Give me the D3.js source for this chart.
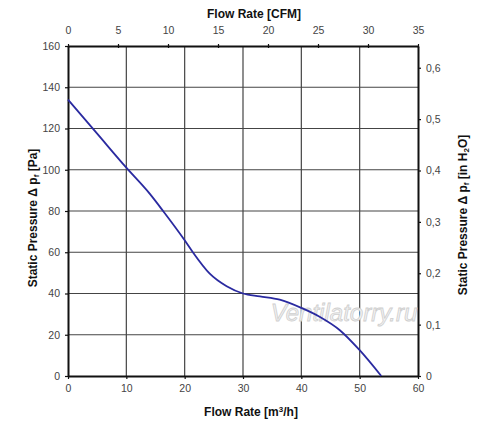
<!DOCTYPE html>
<html>
<head>
<meta charset="utf-8">
<script src="https://cdn.jsdelivr.net/npm/d3@7/dist/d3.min.js"></script>
<style>
body{margin:0;background:#fff;}
svg{display:block;font-family:Arial,"Liberation Sans",sans-serif;}
</style>
</head>
<body>
<svg id="c" width="500" height="421"></svg>
<script>
const flow = [0, 5, 10, 14, 16.3, 20, 21.4, 24.3, 27.2, 30, 32.9, 36.3, 40, 43.2, 46.6, 50, 53.7];
const pressure = [134, 117.5, 101, 88.4, 80, 65.8, 60, 49.6, 43.5, 40, 38.6, 37, 33, 28.6, 22.2, 12.5, 0];
const bottomTicks = [0, 10, 20, 30, 40, 50, 60];
const leftTicks = [0, 20, 40, 60, 80, 100, 120, 140, 160];
const topTicks = [0, 5, 10, 15, 20, 25, 30, 35];
const rightTicks = [0, 0.1, 0.2, 0.3, 0.4, 0.5, 0.6];

const svg = d3.select("#c");
const L = 68, R = 418, T = 46, B = 376;
const x = d3.scaleLinear().domain([0, 60]).range([L, R]);
const y = d3.scaleLinear().domain([0, 160]).range([B, T]);
const xTop = d3.scaleLinear().domain([0, 35]).range([L, R]);
const yRight = d3.scaleLinear().domain([0, 160 / 249.089]).range([B, T]);

const fmt = d3.format(".1f");
const comma = v => v === 0 ? "0" : fmt(v).replace(".", ",");

// grid
svg.append("g").selectAll("line").data(bottomTicks.slice(1, -1)).join("line")
  .attr("x1", d => x(d)).attr("x2", d => x(d)).attr("y1", T).attr("y2", B)
  .attr("stroke", "#444").attr("stroke-width", 1.2);
svg.append("g").selectAll("line").data(leftTicks.slice(1, -1)).join("line")
  .attr("y1", d => y(d)).attr("y2", d => y(d)).attr("x1", L).attr("x2", R)
  .attr("stroke", "#444").attr("stroke-width", 1.2);

function styleAxis(g) {
  g.selectAll("path").attr("stroke", "#111").attr("stroke-width", 2);
  g.selectAll(".tick line").attr("stroke", "#111").attr("stroke-width", 1.2);
  g.selectAll("text").attr("fill", "#444").attr("font-size", 10.5).attr("font-family", "Arial, 'Liberation Sans', sans-serif");
}

svg.append("g").attr("transform", `translate(0,${B})`)
  .call(d3.axisBottom(x).tickValues(bottomTicks).tickSize(3).tickSizeOuter(0).tickPadding(6))
  .call(styleAxis);
svg.append("g").attr("transform", `translate(${L},0)`)
  .call(d3.axisLeft(y).tickValues(leftTicks).tickSize(3).tickSizeOuter(0).tickPadding(5))
  .call(styleAxis);
const topAx = svg.append("g").attr("transform", `translate(0,${T})`)
  .call(d3.axisTop(xTop).tickValues(topTicks).tickSize(3).tickSizeOuter(0).tickPadding(9))
  .call(styleAxis);
topAx.selectAll(".tick line").attr("y1", 2).attr("y2", -2);
svg.append("g").attr("transform", `translate(${R},0)`)
  .call(d3.axisRight(yRight).tickValues(rightTicks).tickSize(3).tickSizeOuter(0).tickPadding(5).tickFormat(comma))
  .call(styleAxis);

// watermark
svg.append("text").attr("x", 344).attr("y", 321).attr("text-anchor", "middle")
  .attr("font-size", 24).attr("font-style", "italic").attr("fill", "#f2f2f2")
  .attr("stroke", "#cfcfcf").attr("stroke-width", 0.8)
  .text("Ventilatorry.ru");

// curve
const line = d3.line().x((d, i) => x(flow[i])).y((d, i) => y(pressure[i])).curve(d3.curveMonotoneX);
svg.append("path").datum(flow).attr("d", line)
  .attr("fill", "none").attr("stroke", "#2a2aa0").attr("stroke-width", 1.8);

// titles
const tf = "Arial, 'Liberation Sans', sans-serif";
svg.append("text").attr("x", 254).attr("y", 18).attr("text-anchor", "middle")
  .attr("font-size", 12).attr("font-weight", "bold").attr("font-family", tf).attr("fill", "#111")
  .text("Flow Rate [CFM]");
const bt = svg.append("text").attr("x", 251).attr("y", 416).attr("text-anchor", "middle")
  .attr("font-size", 12).attr("font-weight", "bold").attr("font-family", tf).attr("fill", "#111");
bt.append("tspan").text("Flow Rate [m");
bt.append("tspan").attr("font-size", 8).attr("dy", -4).text("3");
bt.append("tspan").attr("dy", 4).text("/h]");

const lt = svg.append("text").attr("transform", "translate(37,218) rotate(-90)").attr("text-anchor", "middle")
  .attr("font-size", 12).attr("font-weight", "bold").attr("font-family", tf).attr("fill", "#111");
lt.append("tspan").text("Static Pressure Δ p");
lt.append("tspan").attr("font-size", 8).attr("dy", 2).text("f");
lt.append("tspan").attr("dy", -2).text(" [Pa]");

const rt = svg.append("text").attr("transform", "translate(467,215) rotate(-90)").attr("text-anchor", "middle")
  .attr("font-size", 12).attr("font-weight", "bold").attr("font-family", tf).attr("fill", "#111");
rt.append("tspan").text("Static Pressure Δ p");
rt.append("tspan").attr("font-size", 8).attr("dy", 2).text("f");
rt.append("tspan").attr("dy", -2).text(" [in H");
rt.append("tspan").attr("font-size", 8).attr("dy", 2).text("2");
rt.append("tspan").attr("dy", -2).text("O]");
</script>
</body>
</html>
